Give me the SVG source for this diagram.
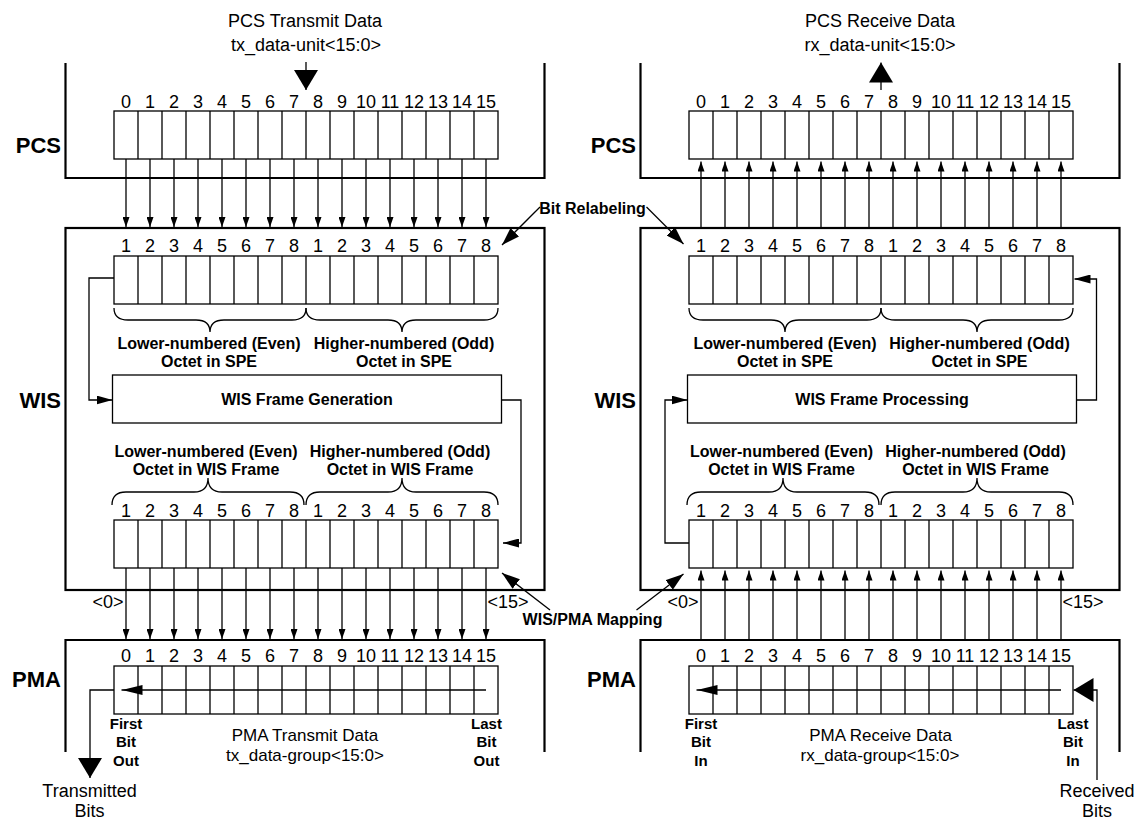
<svg xmlns="http://www.w3.org/2000/svg" xmlns:xlink="http://www.w3.org/1999/xlink" width="1137" height="820" viewBox="0 0 1137 820">
<style>
.box{fill:none;stroke:#000;stroke-width:2.2}
.cell{fill:#fff;stroke:#000;stroke-width:1.3}
.ln{fill:none;stroke:#000;stroke-width:1.3}
text{font-family:"Liberation Sans",Arial,Helvetica,sans-serif;fill:#000;text-anchor:middle}
.t{font-size:18px}
.s{font-size:17px}
.d{font-size:18px}
.b{font-size:16px;font-weight:bold}
.f{font-size:15px;font-weight:bold}
.big{font-size:22px;font-weight:bold;text-anchor:end}
.sa{marker-end:url(#sm)}
.ma{marker-end:url(#md)}
.la{marker-end:url(#lb)}
.ba{marker-end:url(#bg)}
.pa{marker-end:url(#pm)}
</style>
<defs>
<marker id="sm" markerUnits="userSpaceOnUse" viewBox="0 0 10 7" refX="10" refY="3.5" markerWidth="10" markerHeight="7" orient="auto"><path d="M0,0L10,3.5L0,7z" fill="#000"/></marker>
<marker id="md" markerUnits="userSpaceOnUse" viewBox="0 0 16 9" refX="16" refY="4.5" markerWidth="16" markerHeight="9" orient="auto"><path d="M0,0L16,4.5L0,9z" fill="#000"/></marker>
<marker id="lb" markerUnits="userSpaceOnUse" viewBox="0 0 18 12" refX="18" refY="6" markerWidth="18" markerHeight="12" orient="auto"><path d="M0,0L18,6L0,12z" fill="#000"/></marker>
<marker id="bg" markerUnits="userSpaceOnUse" viewBox="0 0 20 24" refX="20" refY="12" markerWidth="20" markerHeight="24" orient="auto"><path d="M0,0L20,12L0,24z" fill="#000"/></marker>
<marker id="pm" markerUnits="userSpaceOnUse" viewBox="0 0 21 10" refX="21" refY="5" markerWidth="21" markerHeight="10" orient="auto"><path d="M0,0L21,5L0,10z" fill="#000"/></marker>
<g id="reg"><rect class="cell" x="0" y="0" width="384" height="48"/><path class="ln" d="M24 0v48M48 0v48M72 0v48M96 0v48M120 0v48M144 0v48M168 0v48M192 0v48M216 0v48M240 0v48M264 0v48M288 0v48M312 0v48M336 0v48M360 0v48"/></g>
<g id="n16"><text class="d" x="12">0</text><text class="d" x="36">1</text><text class="d" x="60">2</text><text class="d" x="84">3</text><text class="d" x="108">4</text><text class="d" x="132">5</text><text class="d" x="156">6</text><text class="d" x="180">7</text><text class="d" x="204">8</text><text class="d" x="228">9</text><text class="d" x="252">10</text><text class="d" x="276">11</text><text class="d" x="300">12</text><text class="d" x="324">13</text><text class="d" x="348">14</text><text class="d" x="372">15</text></g>
<g id="n8"><text class="d" x="12">1</text><text class="d" x="36">2</text><text class="d" x="60">3</text><text class="d" x="84">4</text><text class="d" x="108">5</text><text class="d" x="132">6</text><text class="d" x="156">7</text><text class="d" x="180">8</text><text class="d" x="204">1</text><text class="d" x="228">2</text><text class="d" x="252">3</text><text class="d" x="276">4</text><text class="d" x="300">5</text><text class="d" x="324">6</text><text class="d" x="348">7</text><text class="d" x="372">8</text></g>
<path id="braceDown" d="M0,0Q0,12 14,12H82Q96,12 96,24Q96,12 110,12H178Q192,12 192,0"/>
<path id="braceUp" d="M0,27Q0,14 14,14H82Q96,14 96,0Q96,14 110,14H178Q192,14 192,27"/>
</defs>
<rect x="0" y="0" width="1137" height="820" fill="#fff"/>

<!-- ===== TRANSMIT SIDE ===== -->
<g id="pcs-tx">
<path class="box" d="M65.5,63V178H544.5V63"/>
<text class="t" x="305" y="27">PCS Transmit Data</text>
<text class="t" x="306" y="51">tx_data-unit&lt;15:0&gt;</text>
<text class="big" x="61" y="152.5">PCS</text>
<use xlink:href="#n16" href="#n16" x="114" y="108"/>
<use xlink:href="#reg" href="#reg" x="114" y="111"/>
</g>

<g id="wis-tx">
<rect class="box" x="65.5" y="228" width="479" height="362"/>
<text class="big" x="61" y="408">WIS</text>
<use xlink:href="#n8" href="#n8" x="114" y="252"/>
<use xlink:href="#reg" href="#reg" x="114" y="256"/>
<use xlink:href="#braceDown" href="#braceDown" class="ln" x="114" y="308"/>
<use xlink:href="#braceDown" href="#braceDown" class="ln" x="306" y="308"/>
<text class="b" x="209" y="348.5">Lower-numbered (Even)</text>
<text class="b" x="209" y="366.5">Octet in SPE</text>
<text class="b" x="404" y="348.5">Higher-numbered (Odd)</text>
<text class="b" x="404" y="366.5">Octet in SPE</text>
<rect class="cell" x="112.5" y="375" width="389" height="48"/>
<text class="b" x="307" y="404.5">WIS Frame Generation</text>
<text class="b" x="206" y="456.5">Lower-numbered (Even)</text>
<text class="b" x="206" y="474.5">Octet in WIS Frame</text>
<text class="b" x="400" y="456.5">Higher-numbered (Odd)</text>
<text class="b" x="400" y="474.5">Octet in WIS Frame</text>
<use xlink:href="#braceUp" href="#braceUp" class="ln" x="112" y="478"/>
<use xlink:href="#braceUp" href="#braceUp" class="ln" x="306" y="478"/>
<use xlink:href="#n8" href="#n8" x="114" y="516.5"/>
<use xlink:href="#reg" href="#reg" x="114" y="520"/>
</g>

<g id="pma-tx">
<path class="box" d="M65.5,752V640H544.5V752"/>
<text class="big" x="61" y="687">PMA</text>
<use xlink:href="#n16" href="#n16" x="114" y="661.5"/>
<use xlink:href="#reg" href="#reg" x="114" y="666"/>
<text class="f" x="126" y="728.5">First</text>
<text class="f" x="126" y="747">Bit</text>
<text class="f" x="126" y="765.5">Out</text>
<text class="f" x="486.5" y="728.5">Last</text>
<text class="f" x="486.5" y="747">Bit</text>
<text class="f" x="486.5" y="765.5">Out</text>
<text class="s" x="305" y="740.5">PMA Transmit Data</text>
<text class="s" x="305" y="760.5">tx_data-group&lt;15:0&gt;</text>
<text class="t" x="89.5" y="797">Transmitted</text>
<text class="t" x="89.5" y="817">Bits</text>
</g>

<!-- ===== RECEIVE SIDE ===== -->
<g id="pcs-rx">
<path class="box" d="M640.5,63V178H1119.5V63"/>
<text class="t" x="880" y="27">PCS Receive Data</text>
<text class="t" x="880" y="51">rx_data-unit&lt;15:0&gt;</text>
<text class="big" x="636" y="152.5">PCS</text>
<use xlink:href="#n16" href="#n16" x="689" y="108"/>
<use xlink:href="#reg" href="#reg" x="689" y="111"/>
</g>

<g id="wis-rx">
<rect class="box" x="640.5" y="228" width="479" height="362"/>
<text class="big" x="636" y="408">WIS</text>
<use xlink:href="#n8" href="#n8" x="689" y="252"/>
<use xlink:href="#reg" href="#reg" x="689" y="256"/>
<use xlink:href="#braceDown" href="#braceDown" class="ln" x="689" y="308"/>
<use xlink:href="#braceDown" href="#braceDown" class="ln" x="881" y="308"/>
<text class="b" x="785" y="348.5">Lower-numbered (Even)</text>
<text class="b" x="785" y="366.5">Octet in SPE</text>
<text class="b" x="979.5" y="348.5">Higher-numbered (Odd)</text>
<text class="b" x="979.5" y="366.5">Octet in SPE</text>
<rect class="cell" x="687.5" y="375" width="389" height="48"/>
<text class="b" x="882" y="404.5">WIS Frame Processing</text>
<text class="b" x="781.5" y="456.5">Lower-numbered (Even)</text>
<text class="b" x="781.5" y="474.5">Octet in WIS Frame</text>
<text class="b" x="975.5" y="456.5">Higher-numbered (Odd)</text>
<text class="b" x="975.5" y="474.5">Octet in WIS Frame</text>
<use xlink:href="#braceUp" href="#braceUp" class="ln" x="687" y="478"/>
<use xlink:href="#braceUp" href="#braceUp" class="ln" x="881" y="478"/>
<use xlink:href="#n8" href="#n8" x="689" y="516.5"/>
<use xlink:href="#reg" href="#reg" x="689" y="520"/>
</g>

<g id="pma-rx">
<path class="box" d="M640.5,752V640H1119.5V752"/>
<text class="big" x="636" y="687">PMA</text>
<use xlink:href="#n16" href="#n16" x="689" y="661.5"/>
<use xlink:href="#reg" href="#reg" x="689" y="666"/>
<text class="f" x="701" y="728.5">First</text>
<text class="f" x="701" y="747">Bit</text>
<text class="f" x="701" y="765.5">In</text>
<text class="f" x="1073" y="728.5">Last</text>
<text class="f" x="1073" y="747">Bit</text>
<text class="f" x="1073" y="765.5">In</text>
<text class="s" x="880.5" y="740.5">PMA Receive Data</text>
<text class="s" x="880" y="760.5">rx_data-group&lt;15:0&gt;</text>
<text class="t" x="1097" y="797">Received</text>
<text class="t" x="1097" y="817">Bits</text>
</g>

<g id="labels">
<text class="b" x="592.5" y="214">Bit Relabeling</text>
<text class="b" x="592.5" y="625">WIS/PMA Mapping</text>
<text class="d" x="123.5" y="608" style="text-anchor:end">&lt;0&gt;</text>
<text class="d" x="487.5" y="608" style="text-anchor:start">&lt;15&gt;</text>
<text class="d" x="698.5" y="608" style="text-anchor:end">&lt;0&gt;</text>
<text class="d" x="1062.5" y="608" style="text-anchor:start">&lt;15&gt;</text>
</g>

<g id="connectors" class="ln">
<line class="ln ba" x1="306" y1="62" x2="306" y2="90"/>
<line class="ln ba" x1="881" y1="90" x2="881" y2="62.5"/>
<path class="ln ba" d="M114,690H90V778"/>
<path class="ln ba" d="M1097,780V690H1073.5"/>
<line class="ln pa" x1="486" y1="690" x2="121.5" y2="690"/>
<line class="ln pa" x1="1061" y1="690" x2="696.5" y2="690"/>
<path class="ln ma" d="M114,278H89V400H112.5"/>
<path class="ln ma" d="M501.5,400H521V543H503"/>
<path class="ln ma" d="M1076.5,400H1096.5V279H1074.5"/>
<path class="ln ma" d="M689,543H665V400H687.5"/>
<line class="ln la" x1="540" y1="207" x2="502" y2="245"/>
<line class="ln la" x1="646.5" y1="207" x2="683.5" y2="244"/>
<line class="ln la" x1="550" y1="610" x2="502" y2="573"/>
<line class="ln la" x1="636.5" y1="610" x2="683.5" y2="574"/>
<line class="ln sa" x1="126" y1="159" x2="126" y2="227"/>
<line class="ln sa" x1="150" y1="159" x2="150" y2="227"/>
<line class="ln sa" x1="174" y1="159" x2="174" y2="227"/>
<line class="ln sa" x1="198" y1="159" x2="198" y2="227"/>
<line class="ln sa" x1="222" y1="159" x2="222" y2="227"/>
<line class="ln sa" x1="246" y1="159" x2="246" y2="227"/>
<line class="ln sa" x1="270" y1="159" x2="270" y2="227"/>
<line class="ln sa" x1="294" y1="159" x2="294" y2="227"/>
<line class="ln sa" x1="318" y1="159" x2="318" y2="227"/>
<line class="ln sa" x1="342" y1="159" x2="342" y2="227"/>
<line class="ln sa" x1="366" y1="159" x2="366" y2="227"/>
<line class="ln sa" x1="390" y1="159" x2="390" y2="227"/>
<line class="ln sa" x1="414" y1="159" x2="414" y2="227"/>
<line class="ln sa" x1="438" y1="159" x2="438" y2="227"/>
<line class="ln sa" x1="462" y1="159" x2="462" y2="227"/>
<line class="ln sa" x1="486" y1="159" x2="486" y2="227"/>
<line class="ln sa" x1="126" y1="568" x2="126" y2="639"/>
<line class="ln sa" x1="150" y1="568" x2="150" y2="639"/>
<line class="ln sa" x1="174" y1="568" x2="174" y2="639"/>
<line class="ln sa" x1="198" y1="568" x2="198" y2="639"/>
<line class="ln sa" x1="222" y1="568" x2="222" y2="639"/>
<line class="ln sa" x1="246" y1="568" x2="246" y2="639"/>
<line class="ln sa" x1="270" y1="568" x2="270" y2="639"/>
<line class="ln sa" x1="294" y1="568" x2="294" y2="639"/>
<line class="ln sa" x1="318" y1="568" x2="318" y2="639"/>
<line class="ln sa" x1="342" y1="568" x2="342" y2="639"/>
<line class="ln sa" x1="366" y1="568" x2="366" y2="639"/>
<line class="ln sa" x1="390" y1="568" x2="390" y2="639"/>
<line class="ln sa" x1="414" y1="568" x2="414" y2="639"/>
<line class="ln sa" x1="438" y1="568" x2="438" y2="639"/>
<line class="ln sa" x1="462" y1="568" x2="462" y2="639"/>
<line class="ln sa" x1="486" y1="568" x2="486" y2="639"/>
<line class="ln sa" x1="701" y1="228" x2="701" y2="161.5"/>
<line class="ln sa" x1="725" y1="228" x2="725" y2="161.5"/>
<line class="ln sa" x1="749" y1="228" x2="749" y2="161.5"/>
<line class="ln sa" x1="773" y1="228" x2="773" y2="161.5"/>
<line class="ln sa" x1="797" y1="228" x2="797" y2="161.5"/>
<line class="ln sa" x1="821" y1="228" x2="821" y2="161.5"/>
<line class="ln sa" x1="845" y1="228" x2="845" y2="161.5"/>
<line class="ln sa" x1="869" y1="228" x2="869" y2="161.5"/>
<line class="ln sa" x1="893" y1="228" x2="893" y2="161.5"/>
<line class="ln sa" x1="917" y1="228" x2="917" y2="161.5"/>
<line class="ln sa" x1="941" y1="228" x2="941" y2="161.5"/>
<line class="ln sa" x1="965" y1="228" x2="965" y2="161.5"/>
<line class="ln sa" x1="989" y1="228" x2="989" y2="161.5"/>
<line class="ln sa" x1="1013" y1="228" x2="1013" y2="161.5"/>
<line class="ln sa" x1="1037" y1="228" x2="1037" y2="161.5"/>
<line class="ln sa" x1="1061" y1="228" x2="1061" y2="161.5"/>
<line class="ln sa" x1="701" y1="640" x2="701" y2="570.5"/>
<line class="ln sa" x1="725" y1="640" x2="725" y2="570.5"/>
<line class="ln sa" x1="749" y1="640" x2="749" y2="570.5"/>
<line class="ln sa" x1="773" y1="640" x2="773" y2="570.5"/>
<line class="ln sa" x1="797" y1="640" x2="797" y2="570.5"/>
<line class="ln sa" x1="821" y1="640" x2="821" y2="570.5"/>
<line class="ln sa" x1="845" y1="640" x2="845" y2="570.5"/>
<line class="ln sa" x1="869" y1="640" x2="869" y2="570.5"/>
<line class="ln sa" x1="893" y1="640" x2="893" y2="570.5"/>
<line class="ln sa" x1="917" y1="640" x2="917" y2="570.5"/>
<line class="ln sa" x1="941" y1="640" x2="941" y2="570.5"/>
<line class="ln sa" x1="965" y1="640" x2="965" y2="570.5"/>
<line class="ln sa" x1="989" y1="640" x2="989" y2="570.5"/>
<line class="ln sa" x1="1013" y1="640" x2="1013" y2="570.5"/>
<line class="ln sa" x1="1037" y1="640" x2="1037" y2="570.5"/>
<line class="ln sa" x1="1061" y1="640" x2="1061" y2="570.5"/>
</g>
</svg>
